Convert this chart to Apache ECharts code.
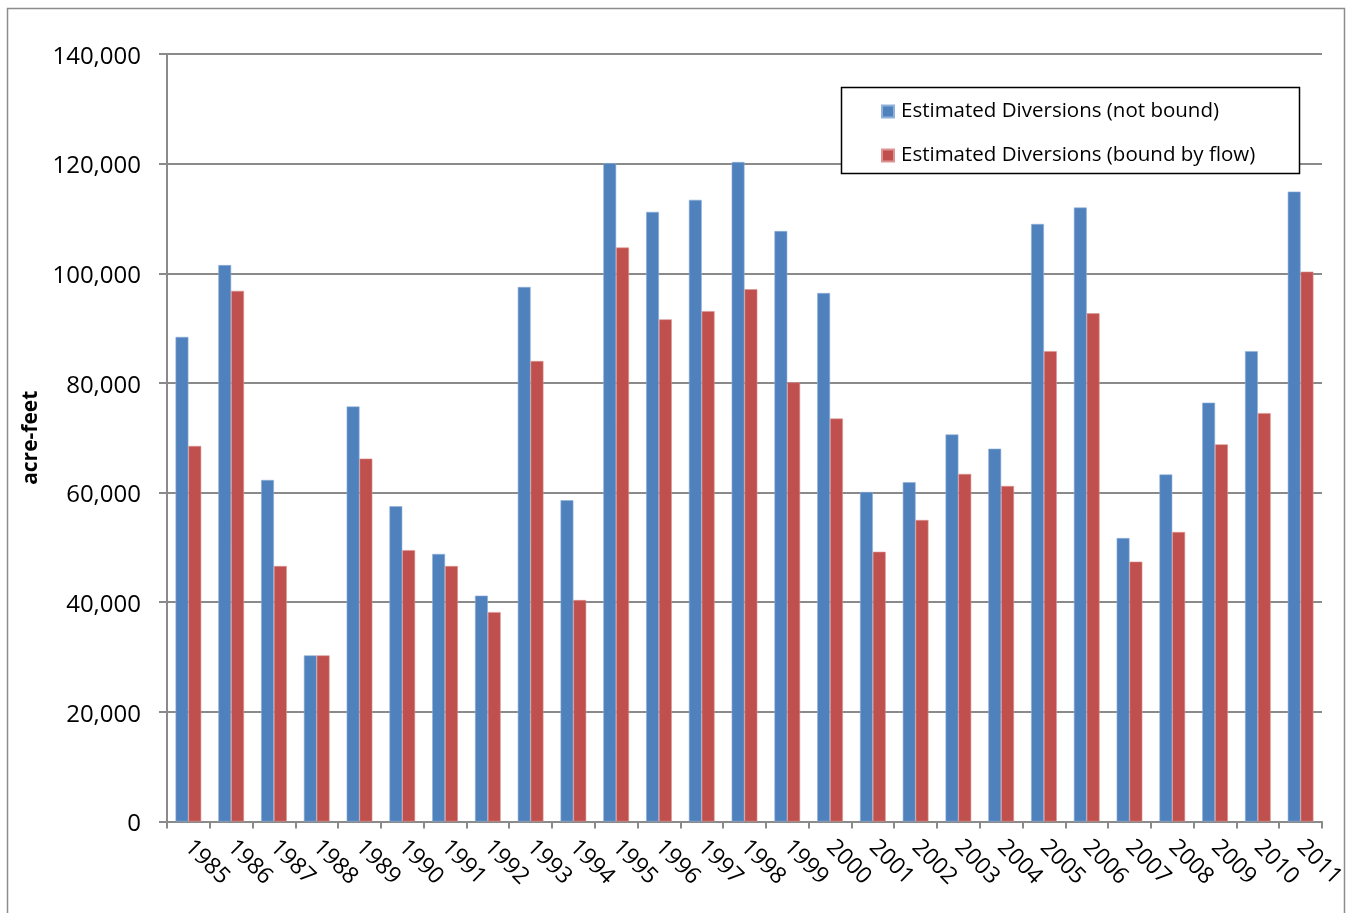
<!DOCTYPE html>
<html>
<head>
<meta charset="utf-8">
<title>Estimated Diversions 1985-2011</title>
<script src="https://cdn.jsdelivr.net/npm/echarts@6/dist/echarts.min.js"></script>
<style>
  html, body { margin: 0; padding: 0; background: #ffffff; }
  #chart { width: 1350px; height: 913px; }
</style>
</head>
<body>
<div id="chart"></div>
<script>
// Water years on the category axis
const years = ['1985','1986','1987','1988','1989','1990','1991','1992','1993','1994',
  '1995','1996','1997','1998','1999','2000','2001','2002','2003','2004',
  '2005','2006','2007','2008','2009','2010','2011'];

// Estimated diversions, acre-feet, not bound by available flow
const notBound = [88400, 101500, 62300, 30300, 75700, 57500, 48800, 41200, 97500, 58600,
  120100, 111200, 113400, 120300, 107700, 96400, 60100, 61900, 70600, 68000,
  109000, 112000, 51700, 63300, 76400, 85800, 114900];

// Estimated diversions, acre-feet, bound by available flow
const boundByFlow = [68500, 96800, 46600, 30300, 66200, 49500, 46600, 38200, 84000, 40400,
  104700, 91600, 93100, 97100, 80100, 73500, 49200, 55000, 63400, 61200,
  85800, 92700, 47400, 52800, 68800, 74500, 100300];

const seriesNames = ['Estimated Diversions (not bound)', 'Estimated Diversions (bound by flow)'];
const yAxisTitle = 'acre-feet';

const FONT = '"Open Sans", "Liberation Sans", sans-serif';
const GRID_GRAY = '#8a8a8a';

const chart = echarts.init(document.getElementById('chart'), null, { renderer: 'canvas' });

chart.setOption({
  backgroundColor: '#ffffff',
  animation: false,
  textStyle: { fontFamily: FONT },
  graphic: [
    {
      type: 'rect',
      shape: { x: 7.5, y: 8.5, width: 1337, height: 920 },
      style: { fill: 'none', stroke: '#8c8c8c', lineWidth: 1.5 },
      silent: true
    },
    {
      type: 'rect',
      z: 10,
      shape: { x: 841.5, y: 87.5, width: 458, height: 86 },
      style: { fill: '#ffffff', stroke: '#000000', lineWidth: 1.5 }
    }
  ],
  legend: {
    z: 20,
    orient: 'vertical',
    left: 881,
    top: 101,
    itemWidth: 12,
    itemHeight: 12,
    itemGap: 23,
    icon: 'rect',
    padding: 0,
    textStyle: {
      fontFamily: FONT,
      fontSize: 20.5,
      color: '#000000',
      lineHeight: 21,
      padding: [0, 0, 0, 2]
    },
    data: seriesNames
  },
  grid: {
    left: 167,
    right: 28,
    top: 54,
    bottom: 91.5,
    containLabel: false
  },
  xAxis: {
    type: 'category',
    data: years,
    axisLine: { show: true, lineStyle: { color: GRID_GRAY, width: 2 } },
    axisTick: { show: true, length: 7, inside: false, alignWithLabel: false, lineStyle: { color: GRID_GRAY, width: 2 } },
    axisLabel: {
      rotate: -45,
      interval: 0,
      margin: 22,
      fontFamily: FONT,
      fontSize: 23,
      color: '#000000'
    },
    splitLine: { show: false }
  },
  yAxis: {
    type: 'value',
    min: 0,
    max: 140000,
    interval: 20000,
    name: yAxisTitle,
    nameLocation: 'middle',
    nameGap: 123,
    nameTextStyle: {
      fontFamily: FONT,
      fontSize: 21,
      fontWeight: 'bold',
      color: '#000000'
    },
    axisLine: { show: true, lineStyle: { color: GRID_GRAY, width: 2 } },
    axisTick: { show: true, length: 8, lineStyle: { color: GRID_GRAY, width: 2 } },
    axisLabel: {
      margin: 26,
      verticalAlign: 'top',
      lineHeight: 6,
      fontFamily: FONT,
      fontSize: 24,
      color: '#000000',
      formatter: function (v) { return v.toLocaleString('en-US'); }
    },
    splitLine: { show: true, lineStyle: { color: GRID_GRAY, width: 2 } }
  },
  series: [
    {
      name: seriesNames[0],
      type: 'bar',
      data: notBound,
      barGap: '0%',
      barCategoryGap: '40%',
      itemStyle: { color: '#4F81BD', borderColor: '#8fb0da', borderWidth: 0.6 }
    },
    {
      name: seriesNames[1],
      type: 'bar',
      data: boundByFlow,
      barGap: '0%',
      barCategoryGap: '40%',
      itemStyle: { color: '#C0504D', borderColor: '#dc9391', borderWidth: 0.6 }
    }
  ]
});
</script>
</body>
</html>
